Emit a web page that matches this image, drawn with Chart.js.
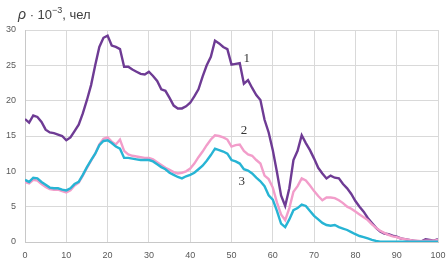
<!DOCTYPE html>
<html>
<head>
<meta charset="utf-8">
<script src="https://cdn.jsdelivr.net/npm/chart.js@4/dist/chart.umd.min.js"></script>
<style>
  html, body { margin: 0; padding: 0; background: #ffffff; }
  #wrap { width: 447px; height: 267px; position: relative; }
</style>
</head>
<body>
<div id="wrap"><canvas id="c" width="447" height="267"></canvas></div>
<script>
// x positions (age / index)
const xs = [];
for (let i = 0; i <= 100; i++) xs.push(i);

// Series 1 (purple)
const series1 = [
  17.4, 16.9, 17.9, 17.7, 17.0, 15.9, 15.5, 15.4, 15.2, 15.0,
  14.4, 14.8, 15.7, 16.6, 18.2, 20.1, 22.2, 25.0, 27.6, 28.9,
  29.2, 27.8, 27.6, 27.3, 24.8, 24.8, 24.4, 24.1, 23.8, 23.7,
  24.1, 23.5, 22.8, 21.6, 21.4, 20.4, 19.3, 18.9, 18.9, 19.2,
  19.7, 20.6, 21.6, 23.4, 25.0, 26.2, 28.5, 28.1, 27.6, 27.3,
  25.1, 25.2, 25.3, 22.4, 22.9, 21.8, 20.8, 20.1, 17.3, 15.5,
  13.0, 9.9, 6.6, 5.1, 7.6, 11.6, 12.9, 15.1, 14.0, 13.0,
  11.8, 10.5, 9.7, 9.0, 9.4, 9.1, 9.0, 8.2, 7.6, 6.8,
  5.8, 5.0, 4.3, 3.4, 2.7, 2.0, 1.5, 1.2, 1.1, 0.9,
  0.75, 0.5, 0.4, 0.3, 0.2, 0.1, 0.1, 0.4, 0.3, 0.2,
  0.4
];

// Series 2 (pink)
const series2 = [
  8.5, 8.3, 8.8, 8.7, 8.2, 7.8, 7.5, 7.4, 7.4, 7.2,
  7.0, 7.3, 8.0, 8.4, 9.4, 10.5, 11.5, 12.5, 13.8, 14.6,
  14.8, 14.2, 13.8, 14.5, 12.9, 12.4, 12.2, 12.1, 12.0, 11.9,
  11.9, 11.7, 11.3, 10.9, 10.5, 10.2, 9.9, 9.7, 9.8, 10.0,
  10.4, 11.1, 12.0, 12.8, 13.7, 14.5, 15.1, 15.0, 14.8, 14.5,
  13.5, 13.7, 13.8, 12.9, 12.4, 12.2, 11.6, 11.1, 9.4, 8.9,
  7.7, 5.6, 3.9, 3.1, 4.8, 7.1, 7.9, 9.0, 8.7, 8.0,
  7.2, 6.5, 5.9, 6.3, 6.3, 6.2, 5.9, 5.5, 5.0, 4.7,
  4.3, 3.9, 3.5, 3.1, 2.5, 2.0, 1.6, 1.3, 1.0, 0.8,
  0.7, 0.5, 0.4, 0.3, 0.2, 0.2, 0.1, 0.2, 0.2, 0.2,
  0.3
];

// Series 3 (cyan)
const series3 = [
  8.8, 8.5, 9.1, 9.0, 8.5, 8.1, 7.7, 7.6, 7.6, 7.4,
  7.3, 7.6, 8.2, 8.5, 9.5, 10.6, 11.6, 12.5, 13.7, 14.3,
  14.4, 14.0, 13.5, 13.2, 11.9, 11.9, 11.8, 11.7, 11.6, 11.6,
  11.6, 11.4, 11.0, 10.6, 10.3, 9.8, 9.5, 9.2, 9.0, 9.3,
  9.5, 9.8, 10.3, 10.8, 11.5, 12.3, 13.2, 13.0, 12.8, 12.5,
  11.6, 11.4, 11.1, 10.3, 10.1, 9.7, 9.1, 8.6, 7.9, 6.6,
  6.0, 4.4, 2.6, 2.1, 3.2, 4.5, 4.8, 5.3, 5.1, 4.4,
  3.7, 3.2, 2.7, 2.4, 2.3, 2.4, 2.1, 1.9, 1.7, 1.4,
  1.1, 0.85, 0.7, 0.5, 0.3, 0.15, 0.05, 0.05, 0.05, 0.05,
  0.05, 0.05, 0.05, 0.05, 0.05, 0.05, 0.05, 0.05, 0.05, 0.05,
  0.05
];

const xTicks = [0, 10, 20, 30, 40, 50, 60, 70, 80, 90, 100];
const yTicks = [0, 5, 10, 15, 20, 25, 30];

// Curve labels: text, x, y in data units
const curveLabels = [
  { text: '1', x: 53.7, y: 26.0 },
  { text: '2', x: 53.0, y: 15.7 },
  { text: '3', x: 52.5, y: 8.5 }
];

function toPoints(arr) { return arr.map((v, i) => ({ x: xs[i], y: v })); }

const overlay = {
  id: 'overlay',
  afterDraw(chart) {
    const ctx = chart.ctx;
    const sx = chart.scales.x, sy = chart.scales.y;
    ctx.save();
    ctx.fillStyle = '#333333';
    ctx.font = '13px "Liberation Serif", serif';
    ctx.textAlign = 'center';
    ctx.textBaseline = 'middle';
    curveLabels.forEach(l => {
      ctx.fillText(l.text, sx.getPixelForValue(l.x), sy.getPixelForValue(l.y));
    });
    ctx.fillStyle = '#404040';
    ctx.textAlign = 'left';
    ctx.textBaseline = 'alphabetic';
    let x = 18, y = 19;
    ctx.font = 'italic 14px "Liberation Sans", sans-serif';
    ctx.fillText('ρ', x, y); x += ctx.measureText('ρ').width;
    ctx.font = '13px "Liberation Sans", sans-serif';
    ctx.fillText(' · 10', x, y); x += ctx.measureText(' · 10').width;
    ctx.font = '9px "Liberation Sans", sans-serif';
    ctx.fillText('−3', x, y - 6); x += ctx.measureText('−3').width;
    ctx.font = '13px "Liberation Sans", sans-serif';
    ctx.fillText(', чел', x, y);
    ctx.restore();
  }
};

const lineDs = (label, data, color) => ({
  label, data: toPoints(data), borderColor: color, backgroundColor: color,
  borderWidth: 2.4, pointRadius: 0, tension: 0, fill: false
});

new Chart(document.getElementById('c'), {
  type: 'line',
  data: {
    datasets: [
      lineDs('3', series3, '#27B4D4'),
      lineDs('2', series2, '#F29DCA'),
      lineDs('1', series1, '#6E3B94')
    ]
  },
  options: {
    responsive: false,
    animation: false,
    layout: { padding: { top: 30, right: 0, left: 0, bottom: 0 } },
    plugins: { legend: { display: false }, tooltip: { enabled: false }, title: { display: false } },
    scales: {
      x: {
        type: 'linear', min: 0, max: 100,
        afterBuildTicks(s) { s.ticks = xTicks.map(v => ({ value: v })); },
        afterFit(s) { s.height = 25; s.paddingRight = 9; },
        grid: { color: '#d9d9d9', lineWidth: 1, drawTicks: false },
        border: { color: '#c8c8c8' },
        ticks: { color: '#595959', font: { family: '"Liberation Sans", sans-serif', size: 9 }, padding: 8, maxRotation: 0, autoSkip: false }
      },
      y: {
        type: 'linear', min: 0, max: 30,
        afterBuildTicks(s) { s.ticks = yTicks.map(v => ({ value: v })); },
        afterFit(s) { s.width = 25; },
        grid: { color: '#d9d9d9', lineWidth: 1, drawTicks: false },
        border: { color: '#c8c8c8' },
        ticks: { color: '#595959', font: { family: '"Liberation Sans", sans-serif', size: 9 }, padding: 9 }
      }
    }
  },
  plugins: [overlay]
});
</script>
</body>
</html>
